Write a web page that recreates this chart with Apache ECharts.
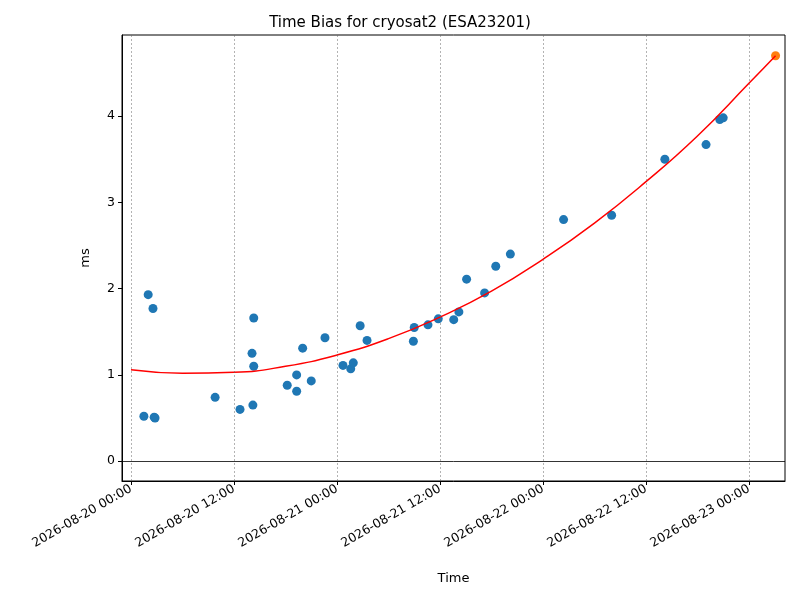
<!DOCTYPE html>
<html>
<head>
<meta charset="UTF-8" />
<script src="https://cdn.jsdelivr.net/npm/echarts@6/dist/echarts.min.js"></script>
</head>
<body style="margin:0">
<div id="main" style="width:800px;height:600px"></div>
<script type="text/javascript">
// hours since 2026-08-20 00:00
var obsHours = [1.5, 2.0, 2.56, 2.7, 2.8, 9.8, 12.7, 14.1, 14.2, 14.3, 14.3, 18.2, 19.3, 19.3, 20.0, 21.0, 22.6,
    24.7, 25.6, 25.9, 26.7, 27.5, 32.9, 33.0, 34.6, 35.8, 37.6, 38.2, 39.1, 41.2, 42.5, 44.2, 50.4, 56.0, 62.2, 67.0, 68.6, 69.0];
var obsBias = [0.52, 1.93, 1.77, 0.51, 0.50, 0.74, 0.60, 1.25, 0.65, 1.10, 1.66, 0.88, 1.00, 0.81, 1.31, 0.93, 1.43,
    1.11, 1.07, 1.14, 1.57, 1.40, 1.39, 1.55, 1.58, 1.65, 1.64, 1.73, 2.11, 1.95, 2.26, 2.40, 2.80, 2.85, 3.50, 3.67, 3.96, 3.98];
var predHour = 75.1, predBias = 4.70;
var fitHours = [0, 6, 12, 18, 24, 30, 36, 42, 48, 54, 60, 66, 72, 75.1];
var fitBias = [1.06, 1.02, 1.03, 1.10, 1.23, 1.42, 1.67, 1.97, 2.34, 2.76, 3.24, 3.77, 4.38, 4.70];
var tickHours = [0, 12, 24, 36, 48, 60, 72];
var tickLabels = ['2026-08-20 00:00', '2026-08-20 12:00', '2026-08-21 00:00', '2026-08-21 12:00',
    '2026-08-22 00:00', '2026-08-22 12:00', '2026-08-23 00:00'];
var yTicks = [0, 1, 2, 3, 4];

var chart = echarts.init(document.getElementById('main'));
var font = 'DejaVu Sans';
var option = {
    animation: false,
    textStyle: {fontFamily: font},
    title: {text: 'Time Bias for cryosat2 (ESA23201)', left: 'center', top: 11,
        textStyle: {fontFamily: font, fontSize: 15, fontWeight: 'normal', color: '#000'}},
    grid: {left: 122, right: 15, top: 35, bottom: 119, show: true, borderColor: '#000', borderWidth: 1},
    xAxis: {
        type: 'value', min: -1.05, max: 76.2,
        name: 'Time', nameLocation: 'middle', nameGap: 91,
        nameTextStyle: {fontSize: 13, color: '#000'},
        axisLine: {onZero: false, lineStyle: {color: '#000'}},
        splitLine: {show: false},
        axisTick: {customValues: tickHours, length: 4, lineStyle: {color: '#000'}},
        axisLabel: {customValues: tickHours, rotate: 30, fontSize: 12.5, color: '#000', margin: 7,
            formatter: function (v) { return tickLabels[tickHours.indexOf(v)] || ''; }}
    },
    yAxis: {
        type: 'value', min: -0.23, max: 4.94,
        name: 'ms', nameLocation: 'middle', nameGap: 30,
        nameTextStyle: {fontSize: 13, color: '#000'},
        axisLine: {show: true, onZero: false, lineStyle: {color: '#000'}},
        splitLine: {show: false},
        axisTick: {show: true, customValues: yTicks, length: 4, lineStyle: {color: '#000'}},
        axisLabel: {customValues: yTicks, fontSize: 12.5, color: '#000', margin: 7}
    },
    series: [
        {
            type: 'line', data: [], silent: true,
            markLine: {
                symbol: 'none', silent: true, label: {show: false},
                data: tickHours.map(function (h) {
                    return {xAxis: h, lineStyle: {color: '#666', type: [2, 2], width: 0.5}};
                }).concat([{yAxis: 0, lineStyle: {color: '#000', type: 'solid', width: 0.8}}])
            }
        },
        {
            type: 'scatter', symbolSize: 9, itemStyle: {color: '#1f77b4', opacity: 1},
            data: obsHours.map(function (h, i) { return [h, obsBias[i]]; })
        },
        {
            type: 'line', smooth: true, showSymbol: false, lineStyle: {color: 'red', width: 1.5},
            data: fitHours.map(function (h, i) { return [h, fitBias[i]]; })
        },
        {
            type: 'scatter', symbolSize: 9, itemStyle: {color: '#ff7f0e', opacity: 1},
            data: [[predHour, predBias]]
        }
    ]
};
chart.setOption(option);
</script>
</body>
</html>
